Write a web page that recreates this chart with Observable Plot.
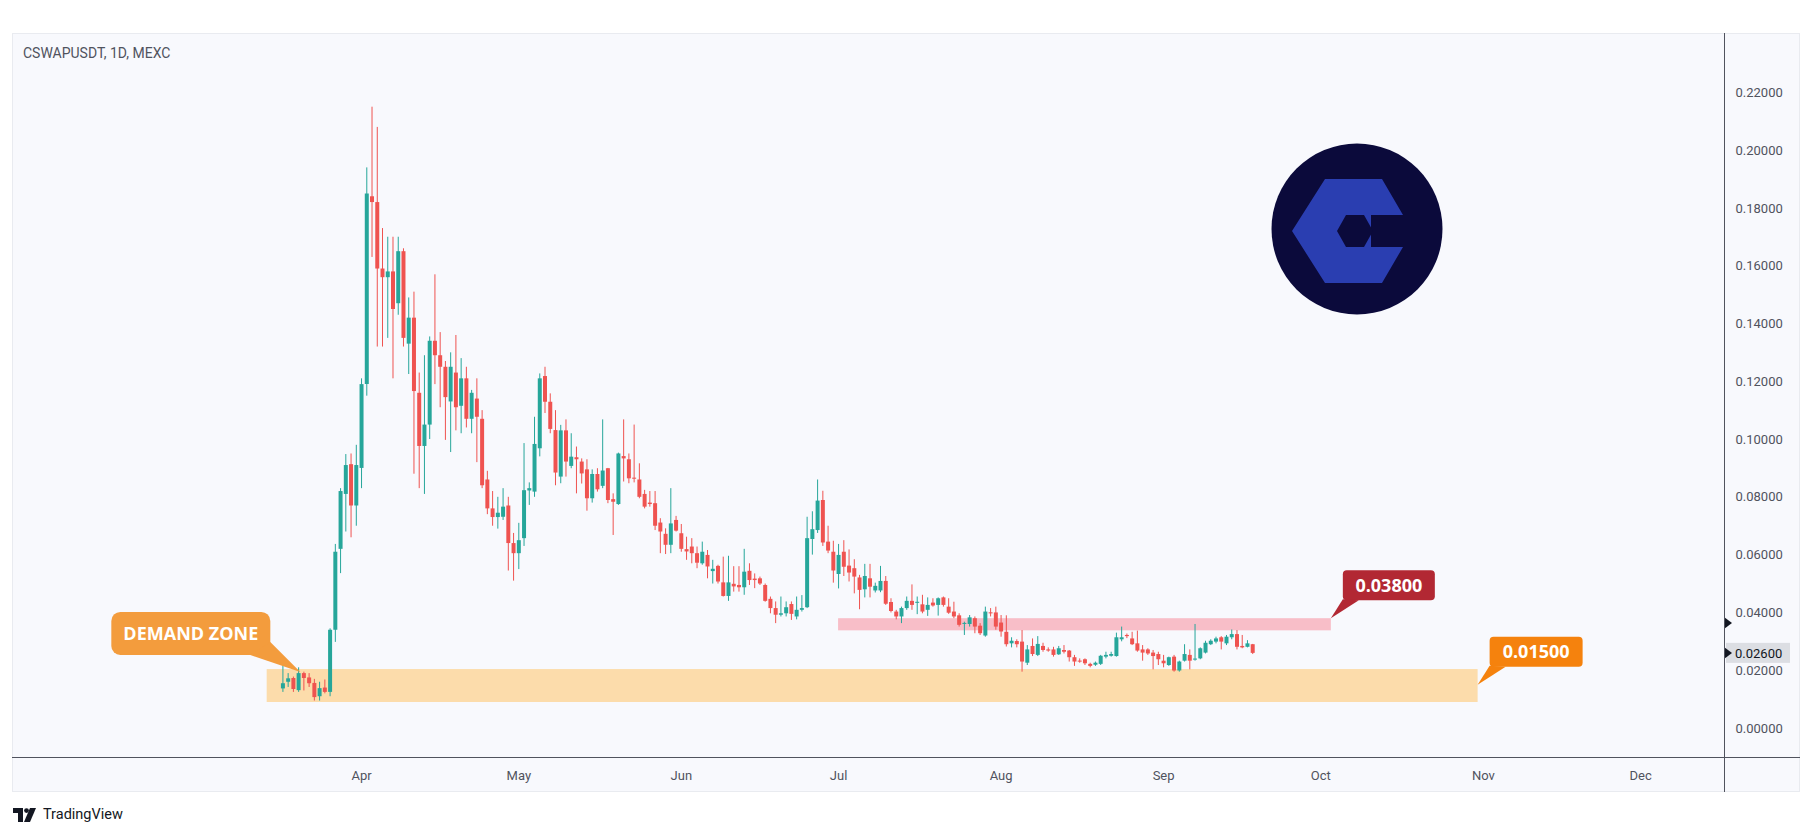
<!DOCTYPE html>
<html><head><meta charset="utf-8">
<script src="https://cdn.jsdelivr.net/npm/d3@7"></script>
<script src="https://cdn.jsdelivr.net/npm/@observablehq/plot@0.6"></script>
<style>
html,body{margin:0;padding:0;background:#ffffff;}
body{width:1814px;height:836px;position:relative;overflow:hidden;font-family:Roboto,"Noto Sans",sans-serif;}
#panel{position:absolute;left:12px;top:33px;width:1788px;height:759px;background:#f8f9fd;box-sizing:border-box;border:1px solid #e9ebf0;}
#chart{position:absolute;left:0;top:0;}
#vline{position:absolute;left:1724px;top:33px;width:1px;height:759px;background:#50535e;}
#hline{position:absolute;left:12px;top:757px;width:1788px;height:1px;background:#50535e;}
#title{position:absolute;left:23px;top:45px;font-size:14px;color:#50535e;}
#logo{position:absolute;left:1271px;top:143px;}
#footer{position:absolute;left:13px;top:806px;display:flex;align-items:center;gap:6px;font-size:14.5px;color:#131722;}
</style></head>
<body>
<div id="panel"></div>
<div id="title">CSWAPUSDT, 1D, MEXC</div>
<svg id="logo" width="172" height="172" viewBox="0 0 172 172">
  <circle cx="86" cy="86" r="85.5" fill="#0b0a3b"/>
  <g transform="translate(86,86)">
    <polygon points="-65,2 -32,-50 25,-50 46,-14 14,-14 14,18 46,18 25,54 -32,54" fill="#2a3eb1"/>
    <polygon points="16,2 7,-14 -11,-14 -20,2 -11,18 7,18" fill="#0b0a3b"/>
  </g>
</svg>
<div id="chart"></div>
<div id="vline"></div>
<div id="hline"></div>
<div id="footer">
  <svg width="24" height="14" viewBox="0 0 24 14"><path d="M0 0h10v14H5V5H0z" fill="#131722"/><circle cx="13.5" cy="2.6" r="2.4" fill="#131722"/><path d="M17 0h6l-6 14h-6z" fill="#131722"/></svg>
  <span>TradingView</span>
</div>
<script>
// ---- data ----
const startDay = "2023-03-17";
const opens = [
 0.0137,0.0160,0.0173,0.0131,0.0190,0.0175,0.0156,0.0110,0.0140,0.0125,0.0340,0.0620,0.0810,0.0913,0.0770,
 0.0900,0.1190,0.1840,0.1820,0.1590,0.1560,0.1580,0.1470,0.1650,0.1330,0.1420,0.1160,0.0976,0.1050,0.1340,0.1290,0.1250,0.1130,0.1230,0.1115,0.1210,0.1070,0.1140,0.1070,0.0860,0.0760,0.0730,0.0731,0.0770,0.0640,
 0.0605,0.0657,0.0822,0.0818,0.0968,0.1218,0.1129,0.1031,0.0870,0.1030,0.0907,0.0937,0.0922,0.0895,0.0795,0.0879,0.0838,0.0899,0.0792,0.0775,0.0941,0.0930,0.0866,0.0860,0.0810,0.0780,0.0778,0.0711,0.0672,0.0634,0.0720,
 0.0674,0.0619,0.0628,0.0605,0.0570,0.0599,0.0543,0.0561,0.0504,0.0457,0.0499,0.0495,0.0487,0.0544,0.0517,0.0518,0.0495,0.0447,0.0415,0.0392,0.0397,0.0429,0.0386,0.0409,0.0418,0.0654,0.0685,0.0789,0.0645,0.0610,
 0.0533,0.0610,0.0562,0.0553,0.0521,0.0480,0.0518,0.0476,0.0476,0.0509,0.0436,0.0403,0.0386,0.0415,0.0440,0.0434,0.0428,0.0409,0.0434,0.0426,0.0452,0.0420,0.0403,0.0390,0.0361,0.0360,0.0380,0.0354,0.0320,0.0400,0.0400,
 0.0365,0.0333,0.0293,0.0301,0.0299,0.0226,0.0284,0.0253,0.0284,0.0272,0.0272,0.0255,0.0270,0.0268,0.0245,0.0233,0.0238,0.0222,0.0219,0.0222,0.0247,0.0250,0.0249,0.0307,0.0322,0.0310,0.0293,0.0272,0.0272,0.0261,0.0256,
 0.0233,0.0218,0.0247,0.0199,0.0233,0.0253,0.0237,0.0241,0.0261,0.0290,0.0299,0.0314,0.0293,0.0314,0.0325,0.0284,0.0281,0.0290
];
const highs = [
 0.0235,0.0190,0.0178,0.0210,0.0195,0.0190,0.0170,0.0160,0.0168,0.0345,0.0637,0.0830,0.0948,0.0950,0.0980,
 0.1210,0.1940,0.2150,0.2080,0.1730,0.1700,0.1700,0.1700,0.1660,0.1490,0.1510,0.1230,0.1290,0.1355,0.1570,0.1370,0.1270,0.1300,0.1360,0.1280,0.1250,0.1170,0.1210,0.1100,0.0890,0.0820,0.0800,0.0830,0.0800,0.0675,
 0.0710,0.0986,0.0850,0.1077,0.1227,0.1250,0.1158,0.1100,0.1049,0.1068,0.1020,0.0974,0.0933,0.0930,0.0895,0.0899,0.1068,0.0900,0.0812,0.0953,0.1068,0.0950,0.1050,0.0916,0.0824,0.0820,0.0820,0.0726,0.0691,0.0830,0.0734,
 0.0706,0.0662,0.0657,0.0628,0.0645,0.0616,0.0582,0.0565,0.0593,0.0596,0.0560,0.0560,0.0620,0.0570,0.0535,0.0524,0.0500,0.0455,0.0438,0.0455,0.0438,0.0438,0.0455,0.0460,0.0731,0.0750,0.0860,0.0821,0.0700,0.0648,
 0.0637,0.0650,0.0618,0.0584,0.0530,0.0568,0.0568,0.0503,0.0561,0.0526,0.0449,0.0409,0.0420,0.0455,0.0497,0.0455,0.0461,0.0452,0.0449,0.0452,0.0455,0.0449,0.0437,0.0397,0.0368,0.0391,0.0386,0.0363,0.0420,0.0415,0.0420,
 0.0391,0.0390,0.0314,0.0307,0.0339,0.0287,0.0310,0.0318,0.0295,0.0279,0.0281,0.0284,0.0287,0.0270,0.0253,0.0241,0.0241,0.0226,0.0230,0.0253,0.0264,0.0264,0.0330,0.0351,0.0327,0.0333,0.0337,0.0287,0.0276,0.0270,0.0264,
 0.0253,0.0247,0.0253,0.0233,0.0290,0.0272,0.0360,0.0279,0.0302,0.0307,0.0316,0.0318,0.0322,0.0341,0.0339,0.0322,0.0304,0.0291
];
const lows = [
 0.0125,0.0142,0.0125,0.0125,0.0130,0.0142,0.0095,0.0095,0.0120,0.0110,0.0298,0.0536,0.0680,0.0660,0.0700,
 0.0830,0.1150,0.1630,0.1320,0.1320,0.1350,0.1210,0.1430,0.1320,0.1225,0.0880,0.0830,0.0810,0.1000,0.1190,0.1110,0.0997,0.0955,0.1030,0.1020,0.1040,0.1020,0.0920,0.0830,0.0740,0.0700,0.0690,0.0720,0.0545,0.0510,
 0.0550,0.0630,0.0772,0.0800,0.0940,0.1090,0.1020,0.0840,0.0847,0.0870,0.0899,0.0812,0.0846,0.0752,0.0780,0.0818,0.0830,0.0778,0.0668,0.0772,0.0853,0.0847,0.0850,0.0795,0.0760,0.0766,0.0685,0.0605,0.0602,0.0605,0.0680,
 0.0610,0.0582,0.0570,0.0553,0.0565,0.0518,0.0500,0.0500,0.0455,0.0440,0.0472,0.0472,0.0461,0.0495,0.0484,0.0495,0.0437,0.0397,0.0363,0.0386,0.0386,0.0374,0.0376,0.0403,0.0415,0.0600,0.0675,0.0630,0.0605,0.0503,
 0.0483,0.0526,0.0507,0.0466,0.0411,0.0452,0.0452,0.0469,0.0470,0.0426,0.0400,0.0376,0.0363,0.0409,0.0409,0.0394,0.0397,0.0388,0.0420,0.0389,0.0420,0.0395,0.0380,0.0351,0.0322,0.0351,0.0328,0.0322,0.0316,0.0386,0.0340,
 0.0316,0.0282,0.0279,0.0279,0.0195,0.0218,0.0249,0.0249,0.0264,0.0264,0.0247,0.0253,0.0258,0.0230,0.0215,0.0226,0.0218,0.0210,0.0215,0.0218,0.0241,0.0247,0.0247,0.0300,0.0311,0.0287,0.0264,0.0233,0.0253,0.0203,0.0218,
 0.0210,0.0215,0.0195,0.0195,0.0230,0.0203,0.0233,0.0238,0.0258,0.0287,0.0293,0.0272,0.0287,0.0307,0.0272,0.0276,0.0279,0.0256
];
const closes = [
 0.0155,0.0172,0.0135,0.0190,0.0173,0.0155,0.0107,0.0138,0.0125,0.0340,0.0610,0.0820,0.0910,0.0770,0.0910,
 0.1190,0.1850,0.1820,0.1590,0.1560,0.1580,0.1450,0.1650,0.1350,0.1420,0.1166,0.0976,0.1050,0.1340,0.1290,0.1250,0.1145,0.1250,0.1110,0.1210,0.1070,0.1160,0.1077,0.0840,0.0760,0.0730,0.0745,0.0766,0.0640,0.0605,
 0.0650,0.0823,0.0830,0.0983,0.1210,0.1129,0.1035,0.0884,0.1030,0.0922,0.0939,0.0930,0.0881,0.0795,0.0879,0.0826,0.0891,0.0789,0.0783,0.0950,0.0933,0.0864,0.0863,0.0800,0.0766,0.0775,0.0700,0.0680,0.0634,0.0708,0.0683,
 0.0620,0.0611,0.0605,0.0572,0.0610,0.0559,0.0551,0.0507,0.0457,0.0504,0.0490,0.0487,0.0541,0.0512,0.0512,0.0500,0.0440,0.0415,0.0392,0.0397,0.0418,0.0395,0.0409,0.0415,0.0657,0.0688,0.0787,0.0642,0.0614,0.0545,
 0.0599,0.0558,0.0538,0.0524,0.0478,0.0526,0.0489,0.0492,0.0509,0.0430,0.0405,0.0386,0.0415,0.0440,0.0426,0.0436,0.0403,0.0426,0.0424,0.0449,0.0426,0.0399,0.0386,0.0357,0.0363,0.0383,0.0351,0.0328,0.0403,0.0397,0.0351,
 0.0334,0.0290,0.0302,0.0290,0.0230,0.0272,0.0256,0.0291,0.0270,0.0268,0.0253,0.0276,0.0264,0.0245,0.0230,0.0230,0.0224,0.0215,0.0226,0.0250,0.0253,0.0256,0.0314,0.0314,0.0318,0.0290,0.0268,0.0261,0.0258,0.0249,0.0238,
 0.0224,0.0245,0.0199,0.0230,0.0256,0.0233,0.0240,0.0276,0.0295,0.0302,0.0310,0.0299,0.0316,0.0325,0.0281,0.0279,0.0293,0.0260
];
const yTicks = [0, 0.02, 0.04, 0.06, 0.08, 0.10, 0.12, 0.14, 0.16, 0.18, 0.20, 0.22];
const monthTicks = ["2023-04-01","2023-05-01","2023-06-01","2023-07-01","2023-08-01","2023-09-01","2023-10-01","2023-11-01","2023-12-01"];
const zoneNames = ["demand", "resistance"];
const zoneStarts = ["2023-03-14", "2023-07-01"];
const zoneEnds = ["2023-10-31", "2023-10-03"];
const zoneLows = [0.0090, 0.0338];
const zoneHighs = [0.0204, 0.0380];
const calloutTexts = ["DEMAND ZONE", "0.03800", "0.01500"];
const calloutDates = ["2023-03-20T10:00:00Z", "2023-10-03", "2023-10-31"];
const calloutValues = [0.0194, 0.0380, 0.0150];
const axisMarkers = [0.0363];

// ---- build ----
const day0 = new Date(startDay + "T00:00:00Z");
const candles = opens.map((o, i) => ({
  date: new Date(day0.getTime() + i * 86400000),
  open: o, high: highs[i], low: lows[i], close: closes[i]
}));
const zones = zoneNames.map((n, i) => ({name: n, start: new Date(zoneStarts[i]), end: new Date(zoneEnds[i]), low: zoneLows[i], high: zoneHighs[i]}));
const lastPrice = closes[closes.length - 1];

const UP = "#26a69a", DOWN = "#ef5350";
const col = d => d.close >= d.open ? UP : DOWN;
const minBody = 0.00036;
const bodyLo = d => { const lo = Math.min(d.open, d.close), hi = Math.max(d.open, d.close); return hi - lo < minBody ? (lo + hi) / 2 - minBody / 2 : lo; };
const bodyHi = d => { const lo = Math.min(d.open, d.close), hi = Math.max(d.open, d.close); return hi - lo < minBody ? (lo + hi) / 2 + minBody / 2 : hi; };

const zoneFill = {demand: "#fcdcab", resistance: "#f8bec8"};
const calloutStyle = [
  {fill: "#f39c3d", box: [-189, -60, -30, -17], ptr: [[-50, -17], [-30, -30]], r: 9},
  {fill: "#b22833", box: [12, -48, 104, -18], ptr: [[12, -19], [28, -18]], r: 4},
  {fill: "#f5820d", box: [12, -48, 105, -18], ptr: [[12, -19], [28, -18]], r: 4}
];

function callouts(index, scales, values, dimensions, context) {
  const g = d3.create("svg:g");
  calloutTexts.forEach((t, i) => {
    const px = scales.x(new Date(calloutDates[i])), py = scales.y(calloutValues[i]);
    const s = calloutStyle[i];
    g.append("rect").attr("x", px + s.box[0]).attr("y", py + s.box[1])
      .attr("width", s.box[2] - s.box[0]).attr("height", s.box[3] - s.box[1])
      .attr("rx", s.r).attr("fill", s.fill);
    g.append("path").attr("d", `M${px},${py}L${px + s.ptr[0][0]},${py + s.ptr[0][1]}L${px + s.ptr[1][0]},${py + s.ptr[1][1]}Z`).attr("fill", s.fill);
    g.append("text").attr("x", px + (s.box[0] + s.box[2]) / 2).attr("y", py + (s.box[1] + s.box[3]) / 2)
      .attr("dy", "0.36em").attr("text-anchor", "middle").attr("fill", "#ffffff")
      .attr("font-family", "'Open Sans', sans-serif").attr("font-weight", 700).attr("font-size", 18)
      .text(t);
  });
  return g.node();
}

function priceScale(index, scales, values, dimensions, context) {
  const g = d3.create("svg:g");
  const xr = dimensions.width - dimensions.marginRight;
  const y = scales.y(lastPrice);
  g.append("rect").attr("x", xr + 2).attr("y", y - 10).attr("width", 64).attr("height", 20).attr("fill", "#dcdee3");
  g.append("text").attr("x", xr + 11).attr("y", y).attr("dy", "0.36em").attr("fill", "#131722")
    .attr("text-anchor", "start").attr("font-size", 13).text(d3.format(".5f")(lastPrice));
  [...axisMarkers, lastPrice].forEach(v => {
    const yy = scales.y(v);
    g.append("path").attr("d", `M${xr},${yy - 6}L${xr + 8},${yy}L${xr},${yy + 6}Z`).attr("fill", "#131722");
  });
  return g.node();
}

const xDomain = [new Date(Date.UTC(2023, 0, 24, 10)), new Date(Date.UTC(2023, 11, 17, 0))];
const yDomain = [-0.01003, 0.2405];

const chart = Plot.plot({
  width: 1814,
  height: 836,
  marginLeft: 12,
  marginRight: 90,
  marginTop: 33,
  marginBottom: 79,
  style: {background: "transparent", fontFamily: "Roboto, sans-serif", fontSize: "13px", color: "#50535e", overflow: "visible"},
  x: {type: "utc", domain: xDomain},
  y: {domain: yDomain},
  marks: [
    Plot.rect(zones, {x1: "start", x2: "end", y1: "low", y2: "high", fill: d => zoneFill[d.name]}),
    Plot.ruleX(candles, {x: "date", y1: "low", y2: "high", stroke: col, strokeWidth: 1}),
    Plot.ruleX(candles, {x: "date", y1: bodyLo, y2: bodyHi, stroke: col, strokeWidth: 4}),
    Plot.axisY({anchor: "right", ticks: yTicks, tickFormat: d3.format(".5f"), tickSize: 0, tickPadding: 11, label: null, fill: "#50535e"}),
    Plot.axisX({ticks: monthTicks.map(d => new Date(d)), tickFormat: "%b", tickSize: 0, tickPadding: 13, label: null, fill: "#50535e"}),
    callouts,
    priceScale
  ]
});
document.getElementById("chart").appendChild(chart);
</script>
</body></html>
